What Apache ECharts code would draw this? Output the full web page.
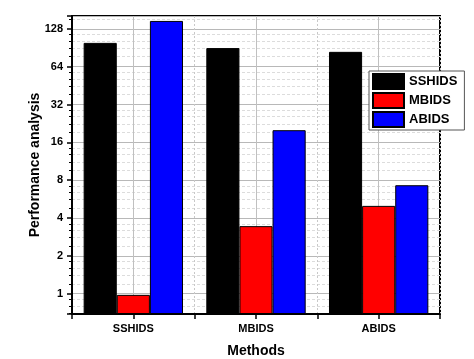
<!DOCTYPE html>
<html>
<head>
<meta charset="utf-8">
<script src="https://cdn.jsdelivr.net/npm/echarts@6/dist/echarts.min.js"></script>
<style>
html,body{margin:0;padding:0;background:#fff;}
#chart{width:474px;height:359px;}
</style>
</head>
<body>
<div id="chart"></div>
<script>
const categories = ['SSHIDS', 'MBIDS', 'ABIDS'];
const seriesNames = ['SSHIDS', 'MBIDS', 'ABIDS'];
const sshidsValues = [99, 90, 84];
const mbidsValues = [0.98, 3.45, 5.0];
const abidsValues = [148, 20, 7.3];
const yTickLabels = [1, 2, 4, 8, 16, 32, 64, 128];
const colors = ['#000000', '#ff0000', '#0000ff'];

const chart = echarts.init(document.getElementById('chart'), null, {renderer: 'canvas'});
const font = 'Arial, "Liberation Sans", sans-serif';
const values = [sshidsValues, mbidsValues, abidsValues];
// helper axis: 7 evenly spaced slots, odd ones are the category centres
const centreSlots = ['', '', '', '', '', '', ''];
const isCentre = (idx) => idx % 2 === 1;

const option = {
  animation: false,
  grid: {
    left: 72, right: 34, top: 16, bottom: 45,
    outerBoundsMode: 'none',
    show: true, borderColor: '#000', borderWidth: 2, backgroundColor: '#fff'
  },
  legend: {
    orient: 'vertical',
    left: 369, top: 71,
    padding: [2, 7, 2, 3],
    itemWidth: 31, itemHeight: 15, itemGap: 2,
    borderColor: '#555', borderWidth: 1, backgroundColor: '#fff',
    icon: 'rect',
    textStyle: {fontFamily: font, fontWeight: 'bold', fontSize: 13, color: '#000', padding: [0, 0, 0, 0]},
    data: seriesNames
  },
  xAxis: [{
    type: 'category',
    data: categories,
    name: 'Methods',
    nameLocation: 'middle',
    nameGap: 30,
    nameTextStyle: {fontFamily: font, fontWeight: 'bold', fontSize: 14, color: '#000'},
    axisLine: {onZero: false, lineStyle: {color: '#000', width: 2}},
    axisTick: {show: true, length: 5, lineStyle: {color: '#000', width: 1.5}},
    axisLabel: {fontFamily: font, fontWeight: 'bold', fontSize: 11, color: '#000', margin: 9},
    splitLine: {show: true, lineStyle: {color: '#c8c8c8', type: [2, 2], width: 1}}
  }, {
    type: 'category',
    data: centreSlots,
    boundaryGap: false,
    position: 'bottom',
    axisLine: {show: false, onZero: false},
    axisTick: {show: true, length: 5, interval: isCentre, lineStyle: {color: '#000', width: 1.5}},
    axisLabel: {show: false},
    splitLine: {show: true, interval: isCentre, lineStyle: {color: '#c0c0c0', width: 1}}
  }],
  yAxis: {
    type: 'log',
    logBase: 2,
    min: 0.69, max: 162,
    startValue: 0.69,
    splitNumber: 8,
    name: 'Performance analysis',
    nameLocation: 'middle',
    nameGap: 30,
    nameMoveOverlap: false,
    nameTextStyle: {fontFamily: font, fontWeight: 'bold', fontSize: 14, color: '#000'},
    axisLine: {show: true, onZero: false, lineStyle: {color: '#000', width: 2}},
    axisTick: {show: true, length: 5, lineStyle: {color: '#000', width: 1.5}},
    minorTick: {show: true, splitNumber: 5, length: 3, lineStyle: {color: '#000', width: 1}},
    axisLabel: {
      fontFamily: font, fontWeight: 'bold', fontSize: 11, color: '#000', margin: 9,
      formatter: function (v) {
        const r = Math.round(v);
        return yTickLabels.indexOf(r) >= 0 && Math.abs(v - r) < 0.01 ? String(r) : '';
      }
    },
    splitLine: {show: true, lineStyle: {color: '#b8b8b8', width: 1}},
    minorSplitLine: {show: true, lineStyle: {color: '#dcdcdc', type: [3, 2], width: 1}}
  },
  series: seriesNames.map((n, i) => ({
    name: n,
    type: 'bar',
    data: values[i],
    barGap: '0%',
    barCategoryGap: '19%',
    itemStyle: {color: colors[i], borderColor: '#000', borderWidth: 1}
  }))
};
chart.setOption(option);
</script>
</body>
</html>
